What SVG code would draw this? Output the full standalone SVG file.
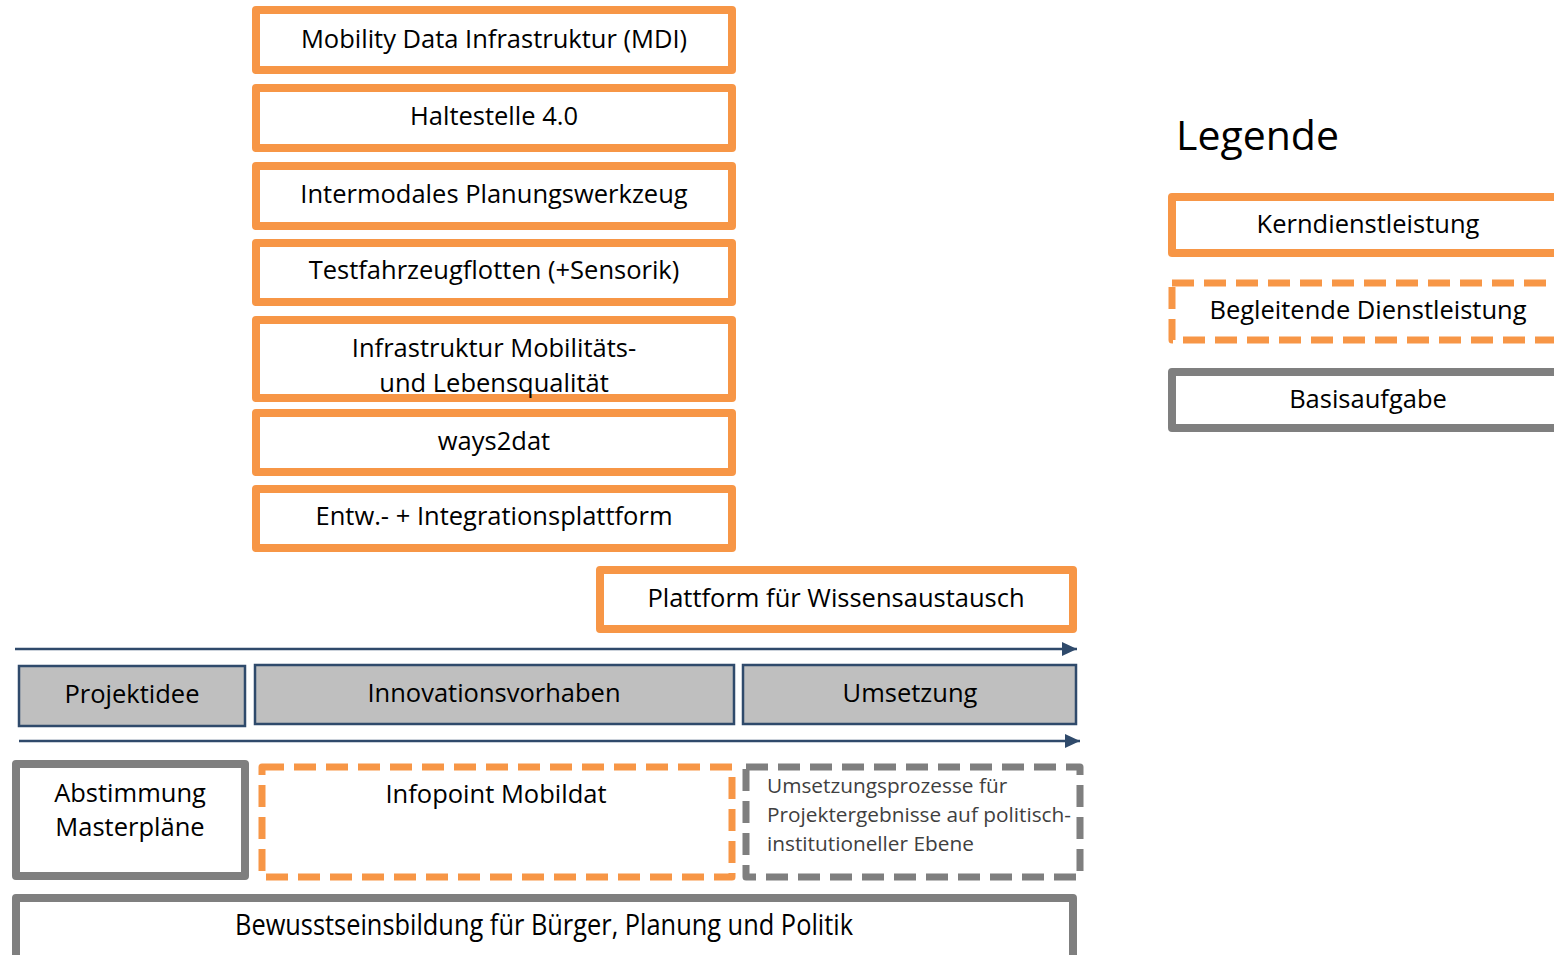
<svg xmlns="http://www.w3.org/2000/svg" width="1554" height="955" viewBox="0 0 1554 955">
<defs>
<style>
.t{font-family:"Open Sans","Liberation Sans",sans-serif;font-size:25.5px;fill:#000;text-anchor:middle}
.ts{font-family:"Open Sans","Liberation Sans",sans-serif;font-size:20.8px;fill:#404040}
.core{fill:#fff;stroke:#F79646;stroke-width:8;stroke-linejoin:round}
.acc{fill:#fff;stroke:#F79646;stroke-width:7;stroke-dasharray:22 10;stroke-linejoin:round}
.base{fill:#fff;stroke:#7F7F7F;stroke-width:8;stroke-linejoin:round}
.based{fill:#fff;stroke:#7F7F7F;stroke-width:7;stroke-dasharray:22 10;stroke-linejoin:round}
.phase{fill:#BFBFBF;stroke:#2F4A6B;stroke-width:2.5}
.arr{stroke:#2F4A6B;stroke-width:2.5;fill:none}
</style>
<marker id="ah" markerUnits="userSpaceOnUse" markerWidth="16" markerHeight="14" refX="15" refY="7" orient="auto">
<path d="M0,0 L15,7 L0,14 z" fill="#2F4A6B"/>
</marker>
</defs>
<rect width="1554" height="955" fill="#fff"/>

<g id="connectors">
<line class="arr" x1="15" y1="649" x2="1077" y2="649" marker-end="url(#ah)"/>
<line class="arr" x1="19" y1="741" x2="1080" y2="741" marker-end="url(#ah)"/>
</g>

<g id="mdi"><rect class="core" x="256" y="10" width="476" height="60"/><text class="t" x="494" y="48">Mobility Data Infrastruktur (MDI)</text></g>
<g id="haltestelle"><rect class="core" x="256" y="88" width="476" height="60"/><text class="t" x="494" y="125">Haltestelle 4.0</text></g>
<g id="planungswerkzeug"><rect class="core" x="256" y="166" width="476" height="60"/><text class="t" x="494" y="203">Intermodales Planungswerkzeug</text></g>
<g id="testfahrzeug"><rect class="core" x="256" y="243" width="476" height="59"/><text class="t" x="494" y="279">Testfahrzeugflotten (+Sensorik)</text></g>
<g id="infrastruktur"><rect class="core" x="256" y="320" width="476" height="78"/><text class="t" x="494" y="357">Infrastruktur Mobilitäts-</text><text class="t" x="494" y="392">und Lebensqualität</text></g>
<g id="ways2dat"><rect class="core" x="256" y="413" width="476" height="59"/><text class="t" x="494" y="450">ways2dat</text></g>
<g id="entw"><rect class="core" x="256" y="489" width="476" height="59"/><text class="t" x="494" y="525">Entw.- + Integrationsplattform</text></g>
<g id="plattform"><rect class="core" x="600" y="570" width="473" height="59"/><text class="t" x="836" y="607">Plattform für Wissensaustausch</text></g>

<g id="projektidee"><rect class="phase" x="19" y="666" width="226" height="60"/><text class="t" x="132" y="703">Projektidee</text></g>
<g id="innovationsvorhaben"><rect class="phase" x="255" y="665" width="479" height="59"/><text class="t" x="494" y="702">Innovationsvorhaben</text></g>
<g id="umsetzung"><rect class="phase" x="743" y="665" width="333" height="59"/><text class="t" x="910" y="702">Umsetzung</text></g>

<g id="abstimmung"><rect class="base" x="16" y="764" width="229" height="112"/><text class="t" x="130" y="802">Abstimmung</text><text class="t" x="130" y="836">Masterpläne</text></g>
<g id="infopoint"><rect class="acc" x="262" y="767" width="470" height="110"/><text class="t" x="496" y="803">Infopoint Mobildat</text></g>
<g id="umsetzungsprozesse"><rect class="based" x="746" y="767" width="334" height="110"/>
<text class="ts" x="767" y="793">Umsetzungsprozesse für</text>
<text class="ts" x="767" y="822">Projektergebnisse auf politisch-</text>
<text class="ts" x="767" y="851">institutioneller Ebene</text></g>
<g id="bewusstseinsbildung"><rect class="base" x="16" y="898" width="1057" height="80"/><text class="t" x="544" y="935" style="font-size:29px" textLength="618" lengthAdjust="spacingAndGlyphs">Bewusstseinsbildung für Bürger, Planung und Politik</text></g>

<g id="legend">
<text x="1176" y="150" style="font-family:'Open Sans','Liberation Sans',sans-serif;font-size:41px;fill:#000">Legende</text>
<g id="legend-kern"><rect class="core" x="1172" y="197" width="420" height="56"/><text class="t" x="1368" y="233">Kerndienstleistung</text></g>
<g id="legend-begleitend"><rect class="acc" x="1172" y="283" width="420" height="57"/><text class="t" x="1368" y="319">Begleitende Dienstleistung</text></g>
<g id="legend-basis"><rect class="base" x="1172" y="372" width="420" height="56"/><text class="t" x="1368" y="408">Basisaufgabe</text></g>
</g>
</svg>
